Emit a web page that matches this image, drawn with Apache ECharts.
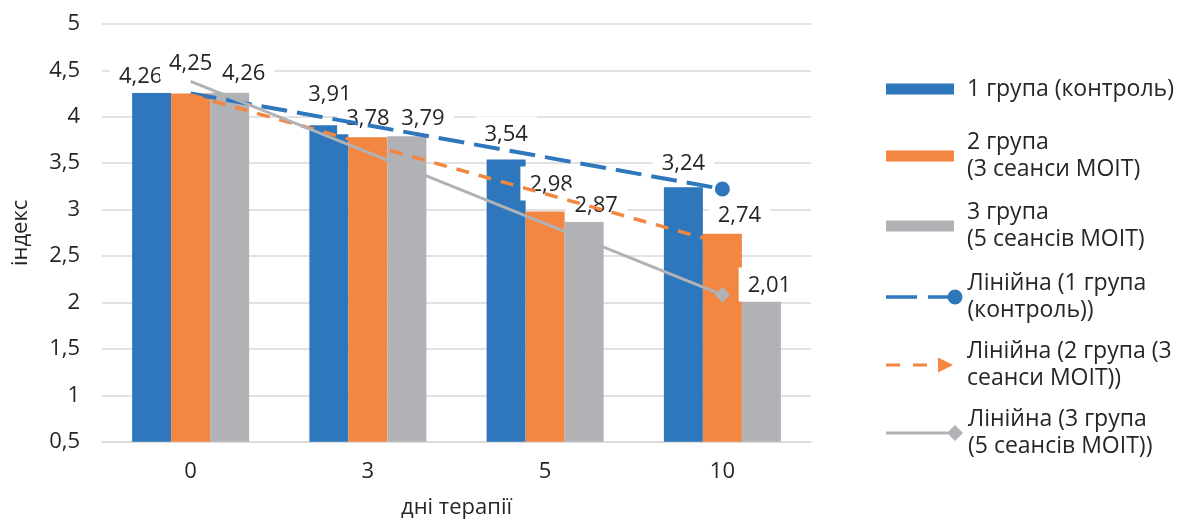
<!DOCTYPE html>
<html>
<head>
<meta charset="utf-8">
<script src="https://cdn.jsdelivr.net/npm/echarts@6/dist/echarts.min.js"></script>
<style>
  html, body { margin: 0; padding: 0; background: #ffffff; }
  #chart { width: 1183px; height: 519px; }
</style>
</head>
<body>
<div id="chart"></div>
<script>
// Days of therapy (categories)
const days = ['0', '3', '5', '10'];

// Index values per group
const group1 = [4.26, 3.91, 3.54, 3.24];
const group2 = [4.25, 3.78, 2.98, 2.74];
const group3 = [4.26, 3.79, 2.87, 2.01];

// Series names
const barNames = [
  '1 група (контроль)',
  '2 група\n(3 сеанси МОІТ)',
  '3 група\n(5 сеансів МОІТ)'
];
const trendNames = [
  'Лінійна (1 група\n(контроль))',
  'Лінійна (2 група (3\nсеанси МОІТ))',
  'Лінійна (3 група\n(5 сеансів МОІТ))'
];

// Y-axis ticks
const yMin = 0.5, yMax = 5, yStep = 0.5;

const FONT = "'Open Sans', 'Noto Sans', sans-serif";
const TEXT = '#262626';
const GRID = '#D9D9D9';
const COLORS = ['#2E77BC', '#F38641', '#B1B2B6'];

// Least-squares linear fit over the category index, evaluated at each category
function linearTrend(values) {
  const n = values.length;
  const xs = values.map((_, i) => i + 1);
  const mx = xs.reduce((a, b) => a + b, 0) / n;
  const my = values.reduce((a, b) => a + b, 0) / n;
  let sxy = 0, sxx = 0;
  for (let i = 0; i < n; i++) {
    sxy += (xs[i] - mx) * (values[i] - my);
    sxx += (xs[i] - mx) * (xs[i] - mx);
  }
  const slope = sxy / sxx;
  return xs.map(x => my + slope * (x - mx));
}

const fmt = v => String(v).replace('.', ',');

// Hand-placed label nudges [dx, dy] per bar
const labelShift = [
  [[-11, 0], [1, -14], [0, -9], [0, -8]],
  [[0, -14], [0, -3], [6, -11], [17, -2]],
  [[14, -3], [16, -2], [12, 0], [8, 0]]
];

const groups = [group1, group2, group3];

const barSeries = groups.map((vals, s) => ({
  name: barNames[s],
  type: 'bar',
  barWidth: 39,
  barGap: '0%',
  itemStyle: { color: COLORS[s] },
  data: vals.map((v, i) => ({
    value: v,
    label: { offset: labelShift[s][i] }
  })),
  label: {
    show: true,
    position: 'top',
    distance: 0,
    formatter: p => p.value.toFixed(2).replace('.', ','),
    fontFamily: FONT,
    fontSize: 22,
    lineHeight: 22,
    color: TEXT,
    backgroundColor: '#ffffff',
    padding: [7, 9, 5, 9]
  }
}));

// End-of-line markers for the trend lines
const endMarkers = [
  { symbol: 'circle', symbolSize: 15 },
  { symbol: 'triangle', symbolSize: 14, symbolRotate: -106 },
  { symbol: 'diamond', symbolSize: [15, 16] }
];
const trendDash = [[26, 10], [13, 10], 'solid'];
const trendWidth = [4, 3.5, 3];

const lineSeries = groups.map((vals, s) => {
  const fit = linearTrend(vals);
  return {
    name: trendNames[s],
    type: 'line',
    color: COLORS[s],
    showSymbol: true,
    symbol: 'none',
    lineStyle: { color: COLORS[s], width: trendWidth[s], type: trendDash[s], cap: 'butt' },
    itemStyle: { color: COLORS[s] },
    data: fit.map((v, i) => i === fit.length - 1
      ? Object.assign({ value: v }, endMarkers[s])
      : { value: v, symbol: 'none' })
  };
});

// Legend icons drawn to look like the series they stand for
const legendIcons = [
  'rect', 'rect', 'rect',
  'path://M0 6H31V9.5H0Z M42 6H66V9.5H42Z M61.5 7.75A7.5 7.5 0 1 1 76.5 7.75A7.5 7.5 0 1 1 61.5 7.75Z',
  'path://M0 6H14V9H0Z M27 6H41V9H27Z M52 0L67 7.5L52 15Z',
  'path://M0 6.5H62V9.5H0Z M61 8L69 0L77 8L69 16Z'
];
const legendSize = [[68, 11], [68, 11], [68, 11], [76.5, 15], [67, 15], [77, 16]];
const legendTop = [75.5, 111.5, 184.5, 256.5, 322.5, 392.5];
const legendPadTop = [0, 35, 29, 27, 31, 27];
const legendNames = barNames.concat(trendNames);

const legends = legendNames.map((name, k) => {
  const w = legendSize[k][0];
  const padLeft = w < 70 ? 76 - w : 0;
  return {
    show: true,
    left: 886,
    top: legendTop[k],
    padding: 0,
    orient: 'vertical',
    selectedMode: false,
    itemWidth: w,
    itemHeight: legendSize[k][1],
    icon: legendIcons[k],
    data: [name],
    textStyle: {
      fontFamily: FONT,
      fontSize: 23,
      lineHeight: 27,
      color: TEXT,
      padding: [legendPadTop[k], 0, 0, padLeft]
    }
  };
});

const chart = echarts.init(document.getElementById('chart'), null, { renderer: 'canvas' });
chart.setOption({
  animation: false,
  backgroundColor: '#ffffff',
  textStyle: { fontFamily: FONT },
  legend: legends,
  grid: { left: 102, right: 372, top: 24, bottom: 77.3, containLabel: false, outerBoundsMode: 'none' },
  xAxis: {
    type: 'category',
    data: days,
    name: 'дні терапії',
    nameLocation: 'middle',
    nameGap: 55,
    nameTextStyle: { fontFamily: FONT, fontSize: 22, color: TEXT },
    axisLine: { show: true, lineStyle: { color: GRID, width: 1.5 } },
    axisTick: { show: false },
    axisLabel: { fontFamily: FONT, fontSize: 22, color: TEXT, margin: 19 }
  },
  yAxis: {
    type: 'value',
    min: yMin,
    max: yMax,
    interval: yStep,
    name: 'індекс',
    nameLocation: 'middle',
    nameGap: 70,
    nameTextStyle: { fontFamily: FONT, fontSize: 22, color: TEXT },
    axisLine: { show: false },
    axisTick: { show: false },
    axisLabel: { fontFamily: FONT, fontSize: 22, color: TEXT, margin: 22, formatter: fmt },
    splitLine: { lineStyle: { color: GRID, width: 1.5 } }
  },
  series: barSeries.concat(lineSeries)
});
</script>
</body>
</html>
